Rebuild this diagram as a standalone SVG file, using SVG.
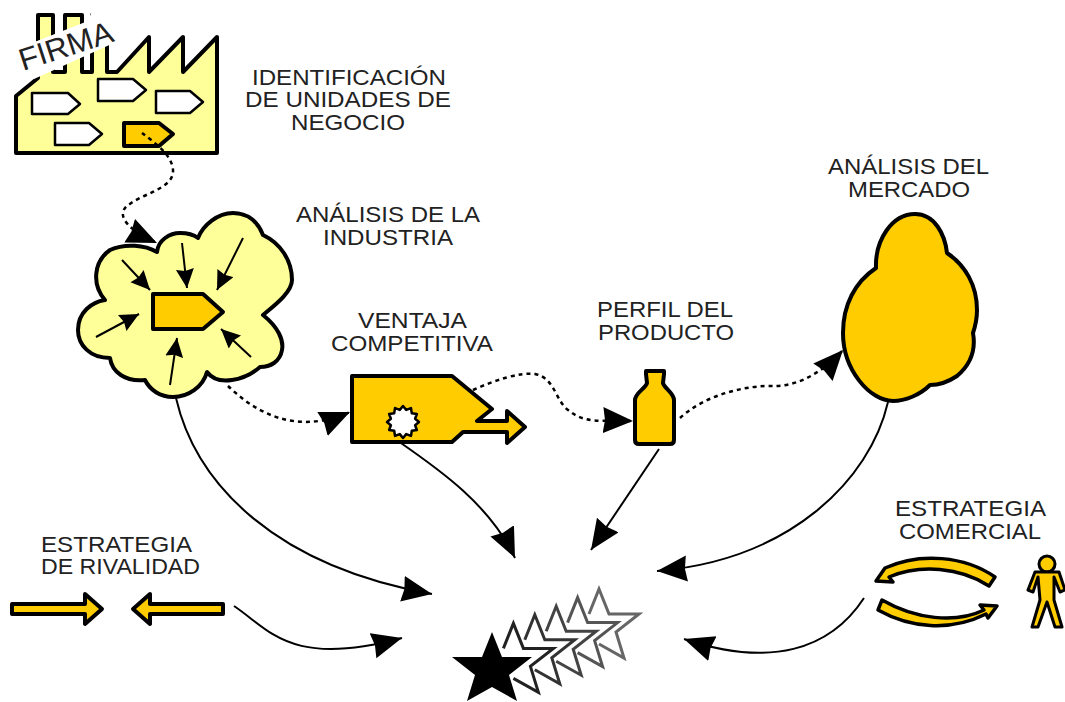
<svg xmlns="http://www.w3.org/2000/svg" width="1065" height="702" viewBox="0 0 1065 702">
<style>
.lb{font-family:"Liberation Sans",Arial,sans-serif;font-size:22px;fill:#222}
.ln{fill:#FFFF99;stroke:#000;stroke-width:4;stroke-linejoin:round}
.or{fill:#FFCC00;stroke:#000;stroke-width:4;stroke-linejoin:round}
.wh{fill:#fff;stroke:#000;stroke-width:2.5;stroke-linejoin:round}
.sol{fill:none;stroke:#000;stroke-width:2}
.dot{fill:none;stroke:#000;stroke-width:2.5;stroke-dasharray:4 4}
.st{fill:none;stroke-width:3;stroke-linejoin:miter}
</style>
<defs>
<marker id="big" markerUnits="userSpaceOnUse" markerWidth="32" markerHeight="28" refX="30" refY="13" orient="auto"><path d="M0 0L30 13L0 26L2 13Z" fill="#000"/></marker>
<marker id="sm" markerUnits="userSpaceOnUse" markerWidth="22" markerHeight="20" refX="19" refY="9" orient="auto"><path d="M0 0L19 9L0 18L2 9Z" fill="#000"/></marker>
</defs>
<g id="firma">
<path class="ln" d="M16 153V96L38 78V15H53V72H65V15H82V72H92V15H107V72H117L149 37V72L183 37V72L217 37V153Z"/>
<polygon points="14,50 88,21 92,11 112,11 116,42 34,79 24,72" fill="#fff"/>
<polygon class="wh" points="32,93 68,93 80,104 68,114 32,114"/>
<polygon class="wh" points="98,79 133,79 146,90 133,101 98,101"/>
<polygon class="wh" points="156,91 190,91 203,102 190,113 156,113"/>
<polygon class="wh" points="55,123 89,123 102,134 89,145 55,145"/>
<polygon class="or" points="124,123 159,123 173,134 159,146 124,146"/>
<text class="lb" transform="translate(23 71) rotate(-18)" style="font-size:31px" textLength="97" lengthAdjust="spacingAndGlyphs">FIRMA</text>
</g>
<g id="identificacion">
<text class="lb" x="252" y="85" textLength="194" lengthAdjust="spacingAndGlyphs">IDENTIFICACIÓN</text>
<text class="lb" x="245" y="107" textLength="206" lengthAdjust="spacingAndGlyphs">DE UNIDADES DE</text>
<text class="lb" x="291" y="130" textLength="114" lengthAdjust="spacingAndGlyphs">NEGOCIO</text>
</g>
<g id="industria">
<path class="ln" d="M157 252C158 240 170 233 180 233C188 233 194 235 198 238C203 225 218 213 233 213C248 213 258 222 263 235C280 243 292 260 292 280C292 292 275 305 263 315C278 327 284 340 282 350C280 362 270 367 260 367C245 380 218 387 207 372C203 387 188 397 173 397C160 397 150 390 145 380C125 382 112 372 110 358C90 358 78 345 78 330C78 312 92 302 105 300C92 285 93 262 110 250C125 243 145 245 157 252Z"/>
<polygon class="or" points="153,294 203,294 223,312 203,329 153,329"/>
<path class="sol" d="M122 260L150 290" marker-end="url(#sm)"/>
<path class="sol" d="M182 243L187 288" marker-end="url(#sm)"/>
<path class="sol" d="M243 238L217 290" marker-end="url(#sm)"/>
<path class="sol" d="M96 337L139 314" marker-end="url(#sm)"/>
<path class="sol" d="M170 385L177 338" marker-end="url(#sm)"/>
<path class="sol" d="M251 357L221 329" marker-end="url(#sm)"/>
<text class="lb" x="296" y="222" textLength="184" lengthAdjust="spacingAndGlyphs">ANÁLISIS DE LA</text>
<text class="lb" x="323" y="245" textLength="130" lengthAdjust="spacingAndGlyphs">INDUSTRIA</text>
</g>
<g id="ventaja">
<polygon class="or" points="352,376 452,376 492,409 477,421 507,421 507,411 525,427 507,443 507,432 463,432 452,442 352,442"/>
<polygon fill="#fff" stroke="#000" stroke-width="2.5" stroke-linejoin="round" points="419,422 415.1,425.2 416.9,430 411.8,430.8 411,435.9 406.2,434.1 403,438 399.8,434.1 395,435.9 394.2,430.8 389.1,430 390.9,425.2 387,422 390.9,418.8 389.1,414 394.2,413.2 395,408.1 399.8,409.9 403,406 406.2,409.9 411,408.1 411.8,413.2 416.9,414 415.1,418.8"/>
<text class="lb" x="358" y="328" textLength="109" lengthAdjust="spacingAndGlyphs">VENTAJA</text>
<text class="lb" x="331" y="351" textLength="162" lengthAdjust="spacingAndGlyphs">COMPETITIVA</text>
</g>
<g id="perfil">
<path class="or" d="M646 371H664V374L663 383C664 388 674 393 674 400V440Q674 444 670 444H639Q635 444 635 440V400C635 393 646 388 647 383L646 374Z"/>
<text class="lb" x="597" y="317" textLength="136" lengthAdjust="spacingAndGlyphs">PERFIL DEL</text>
<text class="lb" x="598" y="340" textLength="136" lengthAdjust="spacingAndGlyphs">PRODUCTO</text>
</g>
<g id="mercado">
<path class="or" d="M876 268C875 240 892 214 915 214C935 214 945 235 947 253C965 265 977 285 977 310C977 320 975 327 973 333C976 350 970 365 957 376C948 382 940 385 930 385C920 395 905 401 893 401C870 401 843 370 843 333C843 305 855 282 876 268Z"/>
<text class="lb" x="828" y="174" textLength="161" lengthAdjust="spacingAndGlyphs">ANÁLISIS DEL</text>
<text class="lb" x="848" y="197" textLength="122" lengthAdjust="spacingAndGlyphs">MERCADO</text>
</g>
<g id="rivalidad">
<polygon class="or" points="12,604 85,604 85,594 102,609 85,624 85,614 12,614"/>
<polygon class="or" points="223,604 150,604 150,594 133,609 150,624 150,614 223,614"/>
<text class="lb" x="41" y="552" textLength="151" lengthAdjust="spacingAndGlyphs">ESTRATEGIA</text>
<text class="lb" x="41" y="574" textLength="159" lengthAdjust="spacingAndGlyphs">DE RIVALIDAD</text>
</g>
<g id="comercial">
<path class="or" style="stroke-width:3.5" d="M995 577C965 556 920 552 885 568L876 581L893 582L889 577C920 564 960 567 989 586Z"/>
<path class="or" style="stroke-width:3.5" d="M882 600C915 619 955 624 984 610L980 605L997 606L988 618L986 614C950 632 910 628 878 610Z"/>
<circle class="or" cx="1047" cy="564" r="8" style="stroke-width:3"/>
<polygon class="or" style="stroke-width:3" points="1035,572 1059,572 1065,590 1060,592 1054,577 1054,600 1062,627 1055,627 1047,602 1038,627 1032,627 1040,600 1038,577 1033,592 1028,590"/>
<text class="lb" x="895" y="516" textLength="151" lengthAdjust="spacingAndGlyphs">ESTRATEGIA</text>
<text class="lb" x="899" y="539" textLength="142" lengthAdjust="spacingAndGlyphs">COMERCIAL</text>
</g>
<g id="estrellas">
<polyline class="st" stroke="#666" transform="translate(107 -43)" points="492,687 517,701 509,675 532,657 502,657 492,632 482,657"/>
<polyline class="st" stroke="#555" transform="translate(85.6 -34.4)" points="492,687 517,701 509,675 532,657 502,657 492,632 482,657"/>
<polyline class="st" stroke="#444" transform="translate(64.2 -25.8)" points="492,687 517,701 509,675 532,657 502,657 492,632 482,657"/>
<polyline class="st" stroke="#333" transform="translate(42.8 -17.2)" points="492,687 517,701 509,675 532,657 502,657 492,632 482,657"/>
<polyline class="st" stroke="#222" transform="translate(21.4 -8.6)" points="492,687 517,701 509,675 532,657 502,657 492,632 482,657"/>
<polygon fill="#000" points="492,632 502,657 532,657 509,675 517,701 492,687 467,701 475,675 452,657 482,657"/>
</g>
<g id="connectors">
<path class="dot" d="M142 133C155 143 172 155 173 170C174 190 140 193 125 208C118 217 128 230 157 243" marker-end="url(#big)"/>
<path class="dot" d="M228 386C255 412 295 436 350 412" marker-end="url(#big)"/>
<path class="dot" d="M473 390C495 380 520 372 535 374C555 378 555 400 568 410C585 424 600 420 633 421" marker-end="url(#big)"/>
<path class="dot" d="M680 418C705 395 745 385 775 386C800 386 825 370 843 350" marker-end="url(#big)"/>
<path class="sol" d="M176 398C195 480 270 565 432 594" marker-end="url(#big)"/>
<path class="sol" d="M398 441C440 470 490 505 515 558" marker-end="url(#big)"/>
<path class="sol" d="M659 449L591 550" marker-end="url(#big)"/>
<path class="sol" d="M888 402C870 480 790 560 657 571" marker-end="url(#big)"/>
<path class="sol" d="M234 606C270 630 290 668 402 638" marker-end="url(#big)"/>
<path class="sol" d="M864 598C830 650 770 668 684 639" marker-end="url(#big)"/>
</g>
</svg>
